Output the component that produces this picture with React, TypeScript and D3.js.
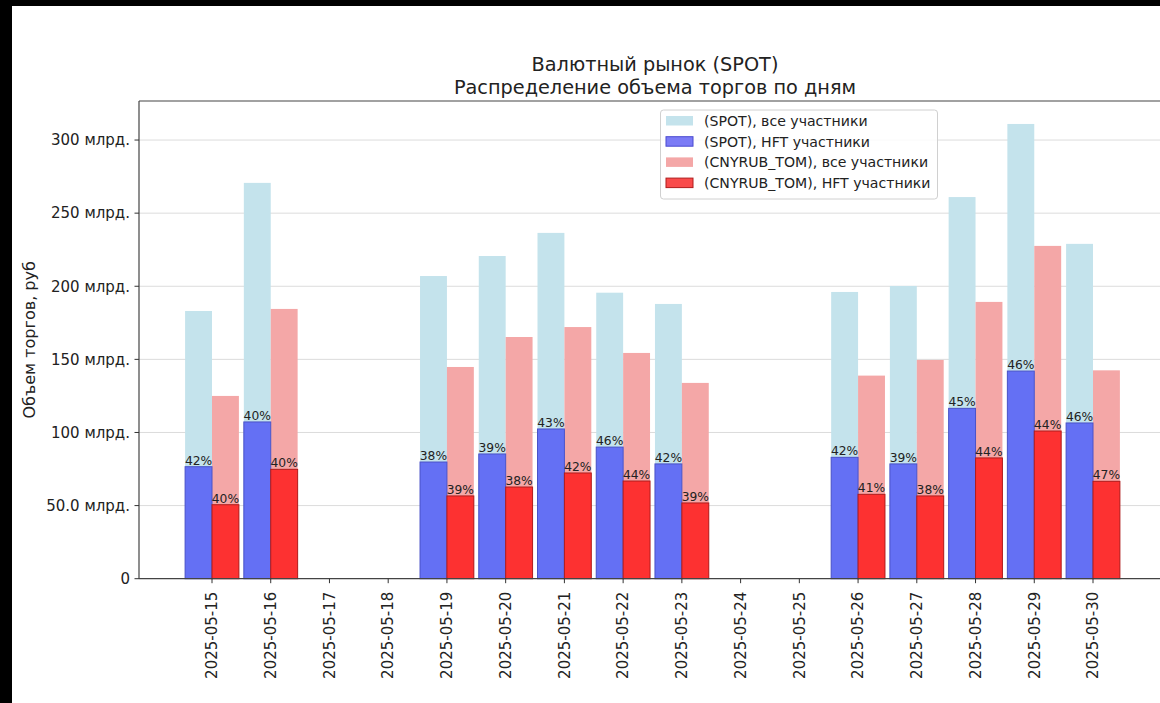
import React from "react";
import * as d3 from "d3";

const dates = ["2025-05-15","2025-05-16","2025-05-17","2025-05-18","2025-05-19","2025-05-20","2025-05-21","2025-05-22","2025-05-23","2025-05-24","2025-05-25","2025-05-26","2025-05-27","2025-05-28","2025-05-29","2025-05-30"];
const spotAll = [183.1, 270.7, 0, 0, 207.0, 220.7, 236.5, 195.6, 187.9, 0, 0, 196.1, 200.2, 261.0, 311.0, 229.0];
const spotHft = [76.6, 107.2, 0, 0, 79.8, 85.3, 102.4, 90.0, 78.5, 0, 0, 83.0, 78.5, 116.5, 142.0, 106.5];
const cnyAll = [125.0, 184.5, 0, 0, 144.8, 165.3, 172.1, 154.4, 133.9, 0, 0, 138.9, 149.6, 189.3, 227.6, 142.5];
const cnyHft = [50.6, 74.8, 0, 0, 56.6, 62.7, 72.3, 66.8, 51.8, 0, 0, 57.7, 56.6, 82.6, 101.0, 66.6];
const spotPct = ["42%","40%","","","38%","39%","43%","46%","42%","","","42%","39%","45%","46%","46%"];
const cnyPct = ["40%","40%","","","39%","38%","42%","44%","39%","","","41%","38%","44%","44%","47%"];
const yTicks = [0, 50, 100, 150, 200, 250, 300];
const yTickLabels = ["0", "50.0 млрд.", "100 млрд.", "150 млрд.", "200 млрд.", "250 млрд.", "300 млрд."];
const legendLabels = ["(SPOT), все участники", "(SPOT), HFT участники", "(CNYRUB_TOM), все участники", "(CNYRUB_TOM), HFT участники"];

const FONT = "'DejaVu Sans', sans-serif";

export default function App() {
  const W = 1160, H = 703;
  const left = 139, top = 101, bottom = 578.7;
  const x = d3.scaleLinear().domain([0, 15]).range([212, 1093]);
  const y = d3.scaleLinear().domain([0, 326.7]).range([bottom, top]);
  const step = x(1) - x(0);
  const bw = step * 0.458;

  const colors = {
    spotAll: "#c4e3ec",
    spotHft: "#6470f4",
    spotHftEdge: "#4a52c8",
    cnyAll: "#f4a7a7",
    cnyHft: "#fd3131",
    cnyHftEdge: "#b01c1c",
  };

  const legendItems = [
    { fill: colors.spotAll, stroke: "none" },
    { fill: "#7b7bf6", stroke: "#4a4ad0" },
    { fill: colors.cnyAll, stroke: "none" },
    { fill: "#f94b4b", stroke: "#b01c1c" },
  ];

  return (
    <svg width={W} height={H} style={{ position: "absolute", left: 0, top: 0, display: "block", background: "#fff" }} fontFamily={FONT}>
      <rect x={0} y={0} width={W} height={H} fill="#fff" />
      {yTicks.slice(1).map((t) => (
        <line key={"g" + t} x1={left} x2={W} y1={y(t)} y2={y(t)} stroke="#dcdcdc" strokeWidth={1} />
      ))}
      {dates.map((d, i) => (
        <g key={d}>
          <rect x={x(i) - bw} y={y(spotAll[i])} width={bw} height={bottom - y(spotAll[i])} fill={colors.spotAll} />
          <rect x={x(i)} y={y(cnyAll[i])} width={bw} height={bottom - y(cnyAll[i])} fill={colors.cnyAll} />
          {spotHft[i] > 0 && (
            <rect x={x(i) - bw} y={y(spotHft[i])} width={bw} height={bottom - y(spotHft[i])} fill={colors.spotHft} stroke={colors.spotHftEdge} strokeWidth={1} />
          )}
          {cnyHft[i] > 0 && (
            <rect x={x(i)} y={y(cnyHft[i])} width={bw} height={bottom - y(cnyHft[i])} fill={colors.cnyHft} stroke={colors.cnyHftEdge} strokeWidth={1} />
          )}
          {spotPct[i] && (
            <text x={x(i) - bw / 2} y={y(spotHft[i]) - 2} textAnchor="middle" fontSize={12.3} fill="#222">{spotPct[i]}</text>
          )}
          {cnyPct[i] && (
            <text x={x(i) + bw / 2} y={y(cnyHft[i]) - 2} textAnchor="middle" fontSize={12.3} fill="#222">{cnyPct[i]}</text>
          )}
        </g>
      ))}
      <line x1={left} x2={W} y1={top} y2={top} stroke="#444" strokeWidth={1.2} />
      <line x1={left} x2={left} y1={top} y2={bottom} stroke="#444" strokeWidth={1.2} />
      <line x1={left} x2={W} y1={bottom} y2={bottom} stroke="#444" strokeWidth={1.2} />
      {yTicks.map((t, k) => (
        <g key={"yt" + t}>
          <line x1={left - 4.5} x2={left} y1={y(t)} y2={y(t)} stroke="#333" strokeWidth={1} />
          <text x={left - 9} y={y(t)} dy="0.35em" textAnchor="end" fontSize={15} fill="#222">{yTickLabels[k]}</text>
        </g>
      ))}
      {dates.map((d, i) => (
        <g key={"xt" + d}>
          <line x1={x(i)} x2={x(i)} y1={bottom} y2={bottom + 4.5} stroke="#333" strokeWidth={1} />
          <text transform={`translate(${x(i)},${bottom + 13}) rotate(-90)`} textAnchor="end" dy="0.35em" fontSize={15} fill="#222">{d}</text>
        </g>
      ))}
      <text transform={`translate(35,${(top + bottom) / 2}) rotate(-90)`} textAnchor="middle" fontSize={16} fill="#222">Объем торгов, руб</text>
      <text x={655} y={71} textAnchor="middle" fontSize={19.3} fill="#222">Валютный рынок (SPOT)</text>
      <text x={655} y={94} textAnchor="middle" fontSize={19.3} fill="#222">Распределение объема торгов по дням</text>
      <rect x={660.5} y={110} width={277} height={89} rx={3} fill="#fff" fillOpacity={0.85} stroke="#d0d0d0" />
      {legendLabels.map((l, k) => (
        <g key={l}>
          <rect x={666} y={116 + k * 20.7} width={27} height={9.5} fill={legendItems[k].fill} stroke={legendItems[k].stroke} />
          <text x={704} y={121 + k * 20.7} dy="0.35em" fontSize={14.1} fill="#222">{l}</text>
        </g>
      ))}
      <rect x={0} y={0} width={W} height={6} fill="#000" />
      <rect x={0} y={0} width={12} height={H} fill="#000" />
    </svg>
  );
}
